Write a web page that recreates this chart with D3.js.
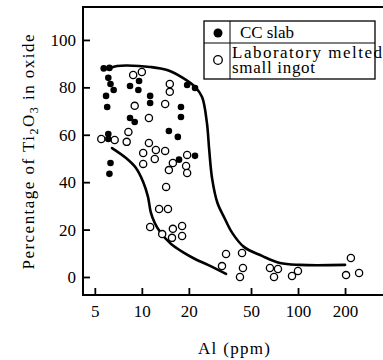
<!DOCTYPE html>
<html>
<head>
<meta charset="utf-8">
<script src="https://cdn.jsdelivr.net/npm/d3@7"></script>
<style>
  body { margin: 0; background: #fff; }
  svg { display: block; font-family: "Liberation Serif", "Times New Roman", serif; }
</style>
</head>
<body>
<div id="chart"></div>
<script>
// tick values
var xTicks = [5, 10, 20, 50, 100, 200];
var yTicks = [0, 20, 40, 60, 80, 100];

// CC slab (filled)  [Al ppm, % Ti2O3]
var ccSlab = [
  [5.7, 88], [6.2, 88.2], [6.1, 84], [6.3, 81.4], [6.6, 78.9], [5.9, 76.4], [6.0, 71.7],
  [6.1, 60.3], [6.1, 58.2], [6.3, 48.1], [6.2, 43.5], [8.4, 80.6], [9.6, 82.7], [9.5, 78.9],
  [11.3, 76.4], [11.3, 73.4], [8.4, 67.1], [9.0, 65.4], [17.8, 71.7], [17.8, 67.5],
  [19.5, 81], [21.9, 79.7], [14.9, 61.6], [17.0, 59.1], [21.9, 51.1], [17.3, 49.5]
];

// Laboratory melted small ingot (open)
var labIngot = [
  [5.5, 58.2], [6.7, 57.8], [8.8, 85.2], [10.0, 86.5], [9.0, 72.2], [8.2, 61.2], [8.0, 57.0],
  [11.1, 67.1], [11.1, 56.5], [10.2, 52.3], [12.3, 53.6], [14.1, 53.2], [10.2, 47.7],
  [12.1, 49.8], [15.8, 48.1], [14.9, 45.1], [19.5, 51.5], [19.2, 46.8], [19.5, 43.9],
  [15.1, 81.4], [15.1, 78.1], [14.1, 73.0], [14.3, 38.0], [12.9, 28.7], [14.7, 28.7],
  [11.3, 21.1], [13.5, 18.1], [15.8, 20.3], [15.6, 16.5], [18.1, 21.5], [18.1, 17.3],
  [34.6, 9.7], [32.6, 4.6], [43.8, 10.1], [44.4, 3.8], [42.5, 0], [66.1, 3.8], [70.2, 0],
  [74.4, 3.4], [91.5, 0.4], [99.9, 2.5], [218, 8.0], [203, 0.8], [246, 1.7]
];

// hand drawn trend curves
var upperCurve = [
  [6.25, 88.2], [6.93, 89.0], [8.03, 89.2], [11.3, 88.6], [14.5, 87.3], [18.3, 84.0],
  [21.9, 80.2], [24.3, 75.9], [26.1, 65], [27.0, 53.6], [28.2, 41.4], [30.5, 31.2],
  [33.8, 24.9], [37.9, 18.6], [45, 12.7], [58.8, 8.9], [76.6, 5.9], [103, 5.1], [200, 5.1]
];
var lowerCurve = [
  [6.44, 54.4], [7.92, 50.2], [9.17, 46.0], [10.2, 40.1], [10.95, 33.8], [11.4, 27.4],
  [12.1, 22.8], [13.1, 19.0], [15.4, 13.9], [18.3, 10.5], [21.9, 7.6], [26.5, 5.1], [34.6, 1.3]
];

var width = 383, height = 360;
var plotL = 83, plotR = 383, plotT = 7, plotB = 295;

var svg = d3.select("#chart").append("svg")
  .attr("width", width)
  .attr("height", height);

var x = d3.scaleLog().domain([4.2, 350]).range([plotL, plotR]);
var y = d3.scaleLinear().domain([-7.6, 113.9]).range([plotB, plotT]);

// frame (open on the right)
svg.append("path")
  .attr("d", "M" + plotR + "," + plotT + "H" + plotL + "V" + plotB + "H" + plotR)
  .attr("fill", "none")
  .attr("stroke", "#000")
  .attr("stroke-width", 2);

// axes
var xAxis = svg.append("g")
  .attr("transform", "translate(0," + plotB + ")")
  .call(d3.axisBottom(x).tickValues(xTicks).tickFormat(d3.format("d"))
    .tickSizeInner(-7).tickSizeOuter(0).tickPadding(10));
var yAxis = svg.append("g")
  .attr("transform", "translate(" + plotL + ",0)")
  .call(d3.axisLeft(y).tickValues(yTicks).tickSizeInner(-7).tickSizeOuter(0).tickPadding(7));

[xAxis, yAxis].forEach(function(g) {
  g.select(".domain").remove();
  g.selectAll(".tick line").attr("stroke", "#000").attr("stroke-width", 1.8);
  g.selectAll(".tick text")
    .attr("fill", "#000")
    .style("font-family", "'Liberation Serif', serif")
    .style("font-size", "17px");
});

// curves
var line = d3.line()
  .x(function(d) { return x(d[0]); })
  .y(function(d) { return y(d[1]); })
  .curve(d3.curveCatmullRom.alpha(0.5));

[upperCurve, lowerCurve].forEach(function(c) {
  svg.append("path")
    .datum(c)
    .attr("d", line)
    .attr("fill", "none")
    .attr("stroke", "#000")
    .attr("stroke-width", 2.6)
    .attr("stroke-linecap", "round");
});

// points
svg.append("g").selectAll("circle")
  .data(labIngot)
  .enter()
  .append("circle")
  .attr("cx", function(d) { return x(d[0]); })
  .attr("cy", function(d) { return y(d[1]); })
  .attr("r", 3.6)
  .attr("fill", "#fff")
  .attr("stroke", "#000")
  .attr("stroke-width", 1.3);

svg.append("g").selectAll("circle")
  .data(ccSlab)
  .enter()
  .append("circle")
  .attr("cx", function(d) { return x(d[0]); })
  .attr("cy", function(d) { return y(d[1]); })
  .attr("r", 3.3)
  .attr("fill", "#000");

// legend
var lg = svg.append("g");
lg.append("rect")
  .attr("x", 204).attr("y", 21).attr("width", 171).attr("height", 58)
  .attr("fill", "#fff").attr("stroke", "#000").attr("stroke-width", 1.3);
lg.append("line").attr("x1", 204).attr("x2", 375).attr("y1", 43).attr("y2", 43)
  .attr("stroke", "#000").attr("stroke-width", 1);
lg.append("line").attr("x1", 230).attr("x2", 230).attr("y1", 21).attr("y2", 79)
  .attr("stroke", "#000").attr("stroke-width", 1);
lg.append("circle").attr("cx", 218).attr("cy", 33).attr("r", 4.5).attr("fill", "#000");
lg.append("circle").attr("cx", 218).attr("cy", 60).attr("r", 4.3)
  .attr("fill", "#fff").attr("stroke", "#000").attr("stroke-width", 1.3);
lg.append("text").attr("x", 240).attr("y", 38).style("font-size", "17px")
  .attr("textLength", 54).text("CC slab");
lg.append("text").attr("x", 232).attr("y", 58).style("font-size", "17px")
  .attr("textLength", 150).text("Laboratory melted");
lg.append("text").attr("x", 232).attr("y", 73).style("font-size", "17px")
  .attr("textLength", 83).text("small ingot");

// axis titles
svg.append("text")
  .attr("x", 234).attr("y", 354)
  .attr("text-anchor", "middle")
  .style("font-size", "17px")
  .attr("textLength", 72)
  .text("Al (ppm)");

var yl = svg.append("text")
  .attr("transform", "translate(34,152) rotate(-90)")
  .attr("text-anchor", "middle")
  .attr("textLength", 235)
  .style("font-size", "17px");
yl.append("tspan").text("Percentage of Ti");
yl.append("tspan").attr("dy", 4).style("font-size", "12px").text("2");
yl.append("tspan").attr("dy", -4).text("O");
yl.append("tspan").attr("dy", 4).style("font-size", "12px").text("3");
yl.append("tspan").attr("dy", -4).text(" in oxide");
</script>
</body>
</html>
